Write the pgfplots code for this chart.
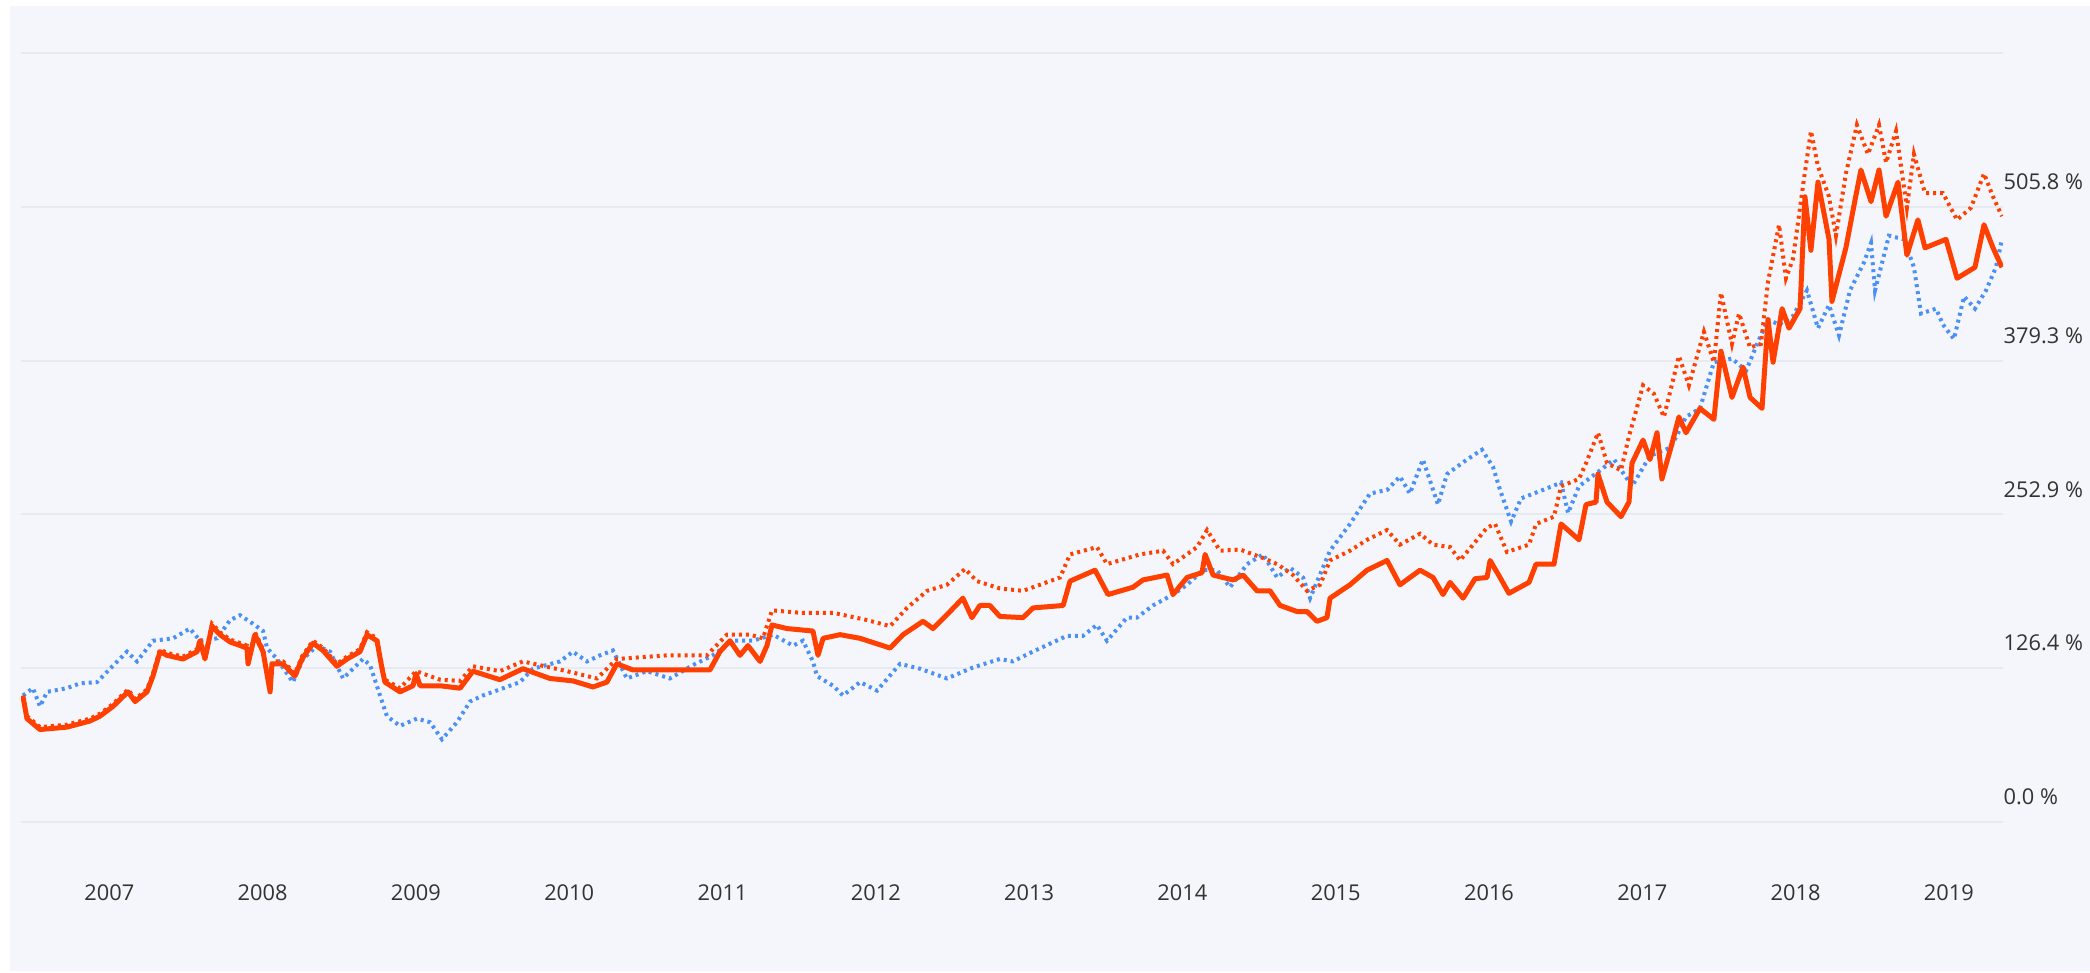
\documentclass[border=0pt]{standalone}
\usepackage{fontspec}
\setmainfont{Open Sans}
\usepackage{pgfplots}
\pgfplotsset{compat=1.18}
\definecolor{panel}{HTML}{F5F6FB}
\definecolor{gridc}{HTML}{E8EAF2}
\definecolor{redl}{HTML}{FF4000}
\definecolor{bluel}{HTML}{4A90F5}
\definecolor{labc}{HTML}{333333}
\begin{document}
\begin{tikzpicture}
\fill[white] (0,0) rectangle (209mm,97.3mm);
\fill[panel] (1mm,0.2mm) rectangle (209mm,96.7mm);
\begin{axis}[
  at={(2.1mm,15.1mm)}, anchor=south west,
  scale only axis, width=198.2mm, height=76.9mm,
  xmin=2006.424, xmax=2019.353, ymin=0, ymax=632.2,
  axis line style={draw=none},
  major tick length=0pt,
  ytick={0,126.4,252.9,379.3,505.8,632.2},
  yticklabels={{0.0 \%},{126.4 \%},{252.9 \%},{379.3 \%},{505.8 \%},{}},
  yticklabel pos=right,
  yticklabel style={anchor=west, inner sep=0pt, yshift=2.5mm, font=\fontsize{6.2}{7}\selectfont, text=labc},
  xtick={2007,2008,2009,2010,2011,2012,2013,2014,2015,2016,2017,2018,2019},
  xticklabels={2007,2008,2009,2010,2011,2012,2013,2014,2015,2016,2017,2018,2019},
  xticklabel style={anchor=center, inner sep=0pt, yshift=-7.1mm, font=\fontsize{6.2}{7}\selectfont, text=labc},
  ymajorgrids, grid style={gridc, line width=0.22mm},
]
% blue dotted
\addplot[bluel, line width=0.4mm, dash pattern=on 0.3mm off 0.4mm] coordinates {
(2006.437,104)(2006.502,110)(2006.548,95)(2006.594,107)(2006.724,110)(2006.809,114)(2006.920,115)
(2007.005,126)(2007.115,140)(2007.181,132)(2007.285,149)(2007.416,151)(2007.526,159)(2007.592,149)
(2007.703,151)(2007.788,166)(2007.853,170)(2007.937,163)(2008.003,157)(2008.029,143)(2008.094,134)
(2008.198,115)(2008.264,134)(2008.355,145)(2008.440,140)(2008.525,118)(2008.590,126)(2008.655,134)
(2008.701,129)(2008.766,104)(2008.811,87)(2008.896,79)(2009.007,85)(2009.092,82)(2009.170,68)
(2009.268,82)(2009.353,99)(2009.437,104)(2009.548,109)(2009.679,115)(2009.763,126)(2009.940,132)
(2010.024,140)(2010.116,132)(2010.201,137)(2010.285,141)(2010.376,118)(2010.507,124)(2010.657,118)
(2010.807,129)(2010.937,137)(2011.068,149)(2011.198,149)(2011.329,154)(2011.460,145)(2011.525,149)
(2011.590,132)(2011.616,120)(2011.721,112)(2011.786,104)(2011.897,115)(2012.008,108)(2012.158,130)
(2012.288,126)(2012.464,118)(2012.634,127)(2012.809,134)(2012.894,132)(2013.024,140)(2013.246,153)
(2013.351,153)(2013.442,162)(2013.508,149)(2013.638,168)(2013.703,168)(2013.808,178)(2013.939,187)
(2014.030,195)(2014.135,207)(2014.226,207)(2014.311,193)(2014.422,212)(2014.526,220)(2014.618,201)
(2014.702,209)(2014.787,201)(2014.833,184)(2014.963,223)(2015.093,245)(2015.224,270)(2015.335,273)
(2015.419,284)(2015.484,270)(2015.569,298)(2015.667,261)(2015.726,286)(2015.857,298)(2015.954,306)
(2016.026,292)(2016.072,273)(2016.144,247)(2016.209,266)(2016.352,273)(2016.470,279)(2016.516,254)
(2016.587,276)(2016.724,289)(2016.816,298)(2016.933,276)(2017.050,301)(2017.187,308)(2017.285,333)
(2017.376,340)(2017.467,378)(2017.585,381)(2017.677,371)(2017.749,393)(2017.820,413)(2017.892,409)
(2017.983,416)(2018.074,437)(2018.146,406)(2018.218,425)(2018.283,400)(2018.355,437)(2018.446,460)
(2018.492,476)(2018.518,437)(2018.609,482)(2018.707,479)(2018.772,456)(2018.818,418)(2018.916,422)
(2018.961,409)(2019.033,397)(2019.099,432)(2019.170,422)(2019.242,437)(2019.307,456)(2019.346,479)
};
% red dotted
\addplot[redl, line width=0.4mm, dash pattern=on 0.3mm off 0.4mm] coordinates {
(2006.437,104)(2006.463,87)(2006.548,78)(2006.724,80)(2006.874,85)(2006.939,89)(2007.024,97)
(2007.122,109)(2007.168,101)(2007.246,109)(2007.285,122)(2007.331,142)(2007.376,139)(2007.481,136)
(2007.572,142)(2007.592,151)(2007.624,136)(2007.670,163)(2007.722,156)(2007.788,150)(2007.898,145)
(2007.905,132)(2007.950,156)(2008.003,142)(2008.049,109)(2008.061,132)(2008.133,132)(2008.211,122)
(2008.257,136)(2008.329,149)(2008.394,143)(2008.485,130)(2008.551,136)(2008.635,142)(2008.681,156)
(2008.746,151)(2008.779,128)(2008.798,117)(2008.896,110)(2009.001,124)(2009.157,117)(2009.288,116)
(2009.372,128)(2009.548,124)(2009.698,132)(2009.985,124)(2010.181,118)(2010.311,134)(2010.638,137)
(2010.898,137)(2011.029,154)(2011.179,154)(2011.264,151)(2011.323,174)(2011.506,172)(2011.721,172)
(2011.943,166)(2012.093,161)(2012.204,176)(2012.334,190)(2012.464,195)(2012.582,208)(2012.660,198)
(2012.809,192)(2012.960,190)(2013.202,201)(2013.267,220)(2013.443,226)(2013.508,212)(2013.724,220)
(2013.874,223)(2013.939,212)(2014.096,226)(2014.161,240)(2014.245,223)(2014.376,224)(2014.526,217)
(2014.618,212)(2014.722,203)(2014.813,190)(2014.898,195)(2014.963,215)(2015.093,223)(2015.204,232)
(2015.335,240)(2015.419,228)(2015.550,237)(2015.635,228)(2015.746,226)(2015.811,215)(2015.896,228)
(2015.987,242)(2016.040,245)(2016.117,222)(2016.261,228)(2016.307,245)(2016.424,251)(2016.470,276)
(2016.587,282)(2016.633,295)(2016.711,320)(2016.770,295)(2016.861,289)(2016.913,317)(2017.005,359)
(2017.076,352)(2017.141,333)(2017.239,383)(2017.304,359)(2017.402,403)(2017.467,378)(2017.513,435)
(2017.585,393)(2017.631,418)(2017.703,390)(2017.774,393)(2017.820,444)(2017.892,491)(2017.937,447)
(2017.983,463)(2018.055,529)(2018.100,568)(2018.146,539)(2018.218,514)(2018.263,482)(2018.328,533)
(2018.400,573)(2018.472,549)(2018.544,573)(2018.590,542)(2018.655,568)(2018.726,505)(2018.772,549)
(2018.844,517)(2018.961,517)(2019.053,495)(2019.144,505)(2019.229,533)(2019.288,514)(2019.346,498)
};
% red solid
\addplot[redl, line width=0.5mm, line join=round] coordinates {
(2006.437,103)(2006.463,85)(2006.548,76)(2006.724,78)(2006.874,83)(2006.939,87)(2007.024,95)
(2007.122,107)(2007.168,99)(2007.246,107)(2007.285,120)(2007.331,140)(2007.376,137)(2007.481,134)
(2007.572,140)(2007.592,149)(2007.624,134)(2007.670,161)(2007.722,154)(2007.788,148)(2007.898,143)
(2007.905,130)(2007.950,154)(2008.003,140)(2008.049,107)(2008.061,130)(2008.133,130)(2008.211,120)
(2008.257,134)(2008.329,147)(2008.394,141)(2008.485,128)(2008.551,134)(2008.635,140)(2008.681,154)
(2008.746,149)(2008.779,126)(2008.798,115)(2008.896,107)(2008.981,112)(2009.001,122)(2009.027,112)
(2009.157,112)(2009.288,110)(2009.372,124)(2009.548,117)(2009.698,126)(2009.874,118)(2010.024,116)
(2010.155,111)(2010.246,115)(2010.311,130)(2010.416,125)(2010.638,125)(2010.918,125)(2010.983,140)
(2011.049,149)(2011.114,137)(2011.166,145)(2011.245,132)(2011.290,145)(2011.323,162)(2011.421,159)
(2011.590,157)(2011.623,137)(2011.656,151)(2011.767,154)(2011.897,151)(2012.093,143)(2012.178,154)
(2012.308,165)(2012.373,159)(2012.484,173)(2012.568,184)(2012.627,168)(2012.679,178)(2012.744,178)
(2012.809,169)(2012.960,168)(2013.026,176)(2013.222,178)(2013.267,198)(2013.430,207)(2013.515,187)
(2013.678,193)(2013.743,199)(2013.900,203)(2013.939,187)(2014.030,201)(2014.128,205)(2014.148,220)
(2014.200,203)(2014.330,199)(2014.396,203)(2014.487,190)(2014.572,190)(2014.637,178)(2014.748,173)
(2014.813,173)(2014.878,165)(2014.943,168)(2014.963,184)(2015.093,195)(2015.204,207)(2015.335,215)
(2015.419,195)(2015.550,207)(2015.635,201)(2015.700,187)(2015.746,197)(2015.831,184)(2015.909,200)
(2015.987,201)(2016.007,215)(2016.072,201)(2016.130,188)(2016.261,197)(2016.307,212)(2016.424,212)
(2016.470,245)(2016.587,232)(2016.633,261)(2016.698,263)(2016.711,286)(2016.770,263)(2016.861,251)
(2016.913,263)(2016.933,295)(2017.005,314)(2017.050,298)(2017.096,320)(2017.128,282)(2017.187,308)
(2017.239,333)(2017.285,320)(2017.376,340)(2017.467,331)(2017.513,387)(2017.585,349)(2017.657,374)
(2017.703,349)(2017.781,340)(2017.820,413)(2017.853,378)(2017.912,422)(2017.957,406)(2018.029,422)
(2018.061,514)(2018.100,470)(2018.146,526)(2018.218,479)(2018.237,428)(2018.328,472)(2018.381,507)
(2018.426,536)(2018.492,510)(2018.544,536)(2018.590,498)(2018.668,526)(2018.726,466)(2018.798,495)
(2018.844,472)(2018.981,479)(2019.053,447)(2019.170,456)(2019.229,491)(2019.288,472)(2019.346,456)
};
\end{axis}
\pgfresetboundingbox
\useasboundingbox (0,0) rectangle (209mm,97.3mm);
\end{tikzpicture}
\end{document}
